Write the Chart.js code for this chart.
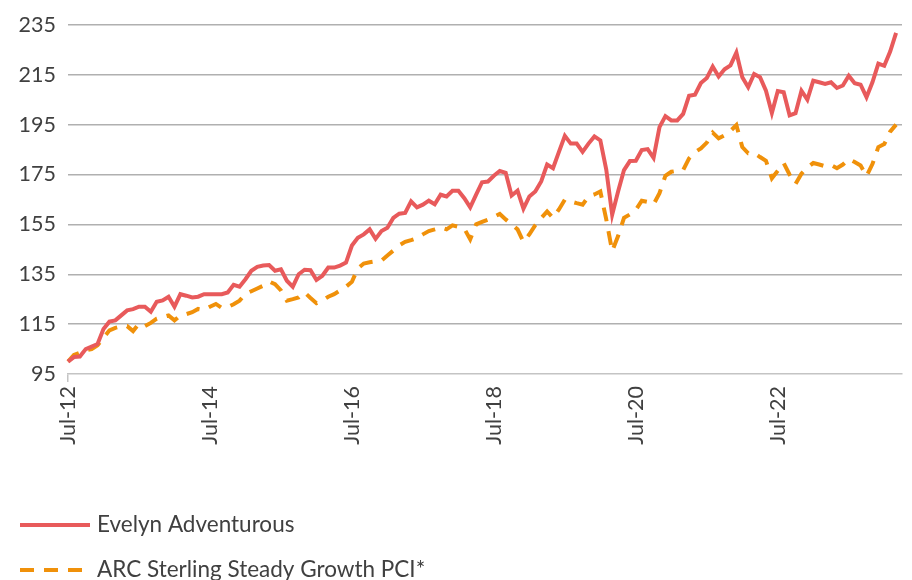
<!DOCTYPE html>
<html lang="en">
  <head>
    <meta charset="UTF-8" />
    <title>Evelyn Adventurous vs ARC</title>
    <style>
      * { margin: 0; padding: 0; box-sizing: border-box; }
      body { background: #fff; }
      .chartBox { width: 912px; height: 580px; }
    </style>
  </head>
  <body>
    <div class="chartBox">
      <canvas id="myChart"></canvas>
    </div>

    <script src="https://cdn.jsdelivr.net/npm/chart.js"></script>

    <script>
      // monthly labels Jul-12 .. Apr-24
      const monthNames = ["Jan","Feb","Mar","Apr","May","Jun","Jul","Aug","Sep","Oct","Nov","Dec"];
      const months = [];
      for (let i = 0; i < 142; i++) {
        const m = (6 + i) % 12;
        const yr = 12 + Math.floor((6 + i) / 12);
        months.push(monthNames[m] + "-" + yr);
      }

      const yTicks = [95, 115, 135, 155, 175, 195, 215, 235];

      const evelyn = [
        100, 101.8, 102, 105, 106, 107, 113, 116, 116.5, 118.5,
        120.5, 121, 122, 122, 120, 124, 124.5, 126, 122, 127,
        126.4, 125.7, 126, 127, 127, 127, 127, 127.7, 130.8, 130,
        133, 136.4, 138, 138.5, 138.7, 136.4, 137, 132.4, 130, 135,
        136.8, 136.6, 132.7, 134.4, 137.7, 137.7, 138.5, 139.7, 146.5, 149.6,
        151, 153, 149.2, 152.3, 153.6, 157.6, 159.3, 159.6, 164.2, 161.8,
        162.9, 164.5, 163.1, 166.9, 166.2, 168.5, 168.5, 165.5, 161.8, 166.9,
        171.9, 172.2, 174.5, 176.4, 175.7, 166.6, 168.5, 161.3, 166.2, 168.2,
        172.2, 179, 177.5, 184.1, 190.5, 187.4, 187.4, 184.1, 187.4, 190.3,
        188.7, 177, 158.9, 168.2, 176.8, 180.4, 180.5, 184.8, 185.2, 181.7,
        194, 198.4, 196.7, 196.7, 199.3, 206.6, 207, 211.7, 213.7, 218.3,
        214.3, 217.2, 218.8, 223.9, 214, 210, 215.3, 214, 208.6, 199.7,
        208.5, 208, 198.7, 199.6, 208.6, 205, 212.6, 212, 211.3, 212,
        209.7, 210.7, 214.6, 211.6, 211, 206, 212, 219.5, 218.6, 224.3,
        231.8
      ];

      const arc = [
        100, 102.6, 103.5, 104.5, 105, 106.5, 109.5, 112.5, 113.5, 114.1,
        114.2, 112.2, 115.2, 114.2, 115.5, 117.2, 117.8, 118.5, 116.5, 118.5,
        119, 119.8, 121.1, 120.7, 122, 123.1, 121.5, 121.8, 123, 124.4,
        127.1, 128.2, 129.3, 130.4, 132.1, 131, 128.5, 124.4, 125, 125.7,
        127.7, 125.5, 123.4, 124.5, 126, 127, 128.5, 130, 132, 137.3,
        139.3, 139.8, 140.2, 140.5, 142.5, 144.5, 146.6, 148, 148.7, 149.5,
        151, 152.3, 153, 153.8, 153, 154.6, 154, 153.3, 149, 155,
        156, 156.9, 158, 159.2, 157, 155, 153, 148, 151, 154.7,
        157.5, 160.2, 157.6, 161, 164.9, 164.2, 163.5, 162.9, 166.2, 167,
        168.2, 157, 144.3, 150.3, 157.6, 159, 160.8, 164.5, 164, 163,
        167.5, 174.5, 176.1, 176.5, 176.8, 181.5, 184, 185.5, 187.8, 191.8,
        189.5, 190.7, 192.5, 194.8, 186, 183.5, 183.6, 182, 180.5, 173.5,
        176.5, 179.6, 174.9, 171.2, 175.3, 177.8, 179.6, 179, 178.3, 178.8,
        177.5, 179, 181.2, 180, 178.6, 174.4, 179.2, 186, 187.2, 192.2,
        195
      ];

      const textColor = "#404040";
      const fontFamily = "Lato, sans-serif";

      const ctx = document.getElementById("myChart");

      const data = {
        labels: months,
        datasets: [
          {
            label: "Evelyn Adventurous",
            data: evelyn,
            borderColor: "#E85A5B",
            borderWidth: 4,
            pointRadius: 0,
            tension: 0,
          },
          {
            label: "ARC Sterling Steady Growth PCI*",
            data: arc,
            borderColor: "#F0910A",
            borderWidth: 4,
            borderDash: [14, 10],
            pointRadius: 0,
            tension: 0,
          },
        ],
      };

      // legend stacked one item per line, bottom left
      const stackedLegend = {
        id: "stackedLegend",
        afterDraw(chart) {
          const { ctx } = chart;
          ctx.save();
          ctx.font = "22.5px " + fontFamily;
          ctx.textBaseline = "middle";
          ctx.textAlign = "left";
          chart.data.datasets.forEach((ds, i) => {
            const y = chart.height - 55 + i * 45;
            ctx.beginPath();
            ctx.strokeStyle = ds.borderColor;
            ctx.lineWidth = ds.borderWidth;
            ctx.setLineDash(ds.borderDash || []);
            ctx.moveTo(20, y);
            ctx.lineTo(90, y);
            ctx.stroke();
            ctx.setLineDash([]);
            ctx.fillStyle = textColor;
            ctx.fillText(ds.label, 97, y);
          });
          ctx.restore();
        },
      };

      const config = {
        type: "line",
        data: data,
        options: {
          responsive: true,
          maintainAspectRatio: false,
          animation: false,
          layout: { padding: { top: 12, right: 10, left: 0, bottom: 0 } },
          plugins: {
            legend: { display: false },
            tooltip: { enabled: false },
          },
          scales: {
            x: {
              type: "category",
              offset: false,
              grid: {
                drawOnChartArea: false,
                drawTicks: true,
                tickLength: 8,
                lineWidth: 1.5,
                color: (c) => (c.index % 24 === 0 ? "#c4c4c4" : "rgba(0,0,0,0)"),
              },
              border: { display: true, color: "#c4c4c4", width: 1.5 },
              ticks: {
                autoSkip: false,
                maxRotation: 90,
                minRotation: 90,
                padding: 4,
                color: textColor,
                font: { family: fontFamily, size: 21.5 },
                callback: (val, idx) => (idx % 24 === 0 ? months[idx] : null),
              },
              afterFit: (s) => { s.height = 206; },
            },
            y: {
              min: yTicks[0],
              max: yTicks[yTicks.length - 1],
              afterBuildTicks: (s) => { s.ticks = yTicks.map((v) => ({ value: v })); },
              grid: {
                drawTicks: false,
                lineWidth: 1.5,
                color: (c) => (c.tick && c.tick.value === yTicks[0] ? "rgba(0,0,0,0)" : "#b0b0b0"),
              },
              border: { display: false },
              ticks: {
                padding: 12,
                color: textColor,
                font: { family: fontFamily, size: 21.5 },
              },
              afterFit: (s) => { s.width = 68; },
            },
          },
        },
        plugins: [stackedLegend],
      };

      const myChart = new Chart(ctx, config);
    </script>
  </body>
</html>
